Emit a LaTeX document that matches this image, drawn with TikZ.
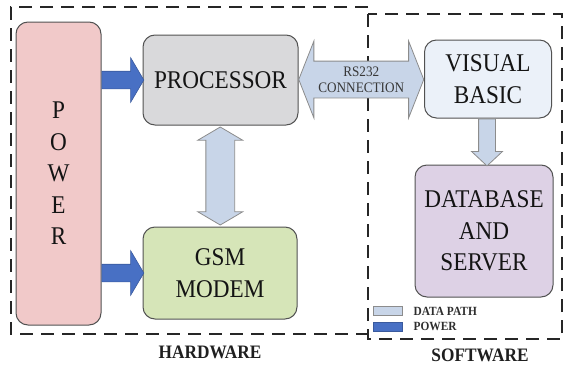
\documentclass[tikz,border=0pt]{standalone}
\usepackage{fontspec}
\setmainfont{Liberation Serif}
\newfontfamily\nfont[FakeStretch=0.91]{Liberation Serif}
\usetikzlibrary{positioning,shapes.arrows}
\definecolor{pwrpink}{RGB}{241,201,201}
\definecolor{procgray}{RGB}{217,217,219}
\definecolor{gsmgreen}{RGB}{214,229,184}
\definecolor{vbblue}{RGB}{235,241,249}
\definecolor{dbpurple}{RGB}{221,209,229}
\definecolor{pwrblue}{RGB}{72,112,196}
\definecolor{datblue}{RGB}{200,213,232}
\tikzset{
  blk/.style ={draw=black!68, line width=1pt, rounded corners=12pt, align=center, inner sep=0pt,
               text=black!92, font=\nfont\fontsize{25.5}{31.5}\selectfont},
  pa/.style  ={single arrow, draw=pwrblue!80!black, fill=pwrblue, line width=0.6pt, inner sep=0pt,
               inner ysep=8.5pt, single arrow head extend=13.5pt, single arrow tip angle=119},
  da/.style  ={single arrow, draw=black!45, fill=datblue, line width=0.8pt, inner sep=0pt,
               inner ysep=8pt, single arrow head extend=7pt, single arrow tip angle=94},
  dda/.style ={double arrow, draw=black!45, fill=datblue, line width=0.8pt, inner sep=0pt},
  hb/.style  ={dash pattern=on 13pt off 8pt, line width=1.8pt, black!85},
  tl/.style  ={text=black!88, font=\nfont\bfseries\fontsize{19}{22}\selectfont},
  lg/.style  ={inner sep=0pt, text=black!82, font=\nfont\bfseries\fontsize{12.5}{14}\selectfont}
}

\begin{document}
\begin{tikzpicture}[x=1pt, y=-1pt]
\useasboundingbox (0,0) rectangle (564,364);
\draw[hb] (368,7) -- (11,7) -- (11,334) -- (368,334);
\draw[hb] (368,14) rectangle (562,339);

\node[blk, fill=pwrpink, minimum width=85pt, minimum height=303pt] (pwr) at (58.5,173.5) {P\\O\\W\\E\\R};
\node[blk, fill=procgray, minimum width=155pt, minimum height=90pt] (proc) at (220.5,80) {PROCESSOR};
\node[blk, fill=gsmgreen, minimum width=154pt, minimum height=92pt] (gsm) at (220,273) {GSM\\MODEM};
\node[blk, fill=vbblue, minimum width=127pt, minimum height=78pt] (vb) at (488,79) {VISUAL\\BASIC};
\node[blk, fill=dbpurple, minimum width=138pt, minimum height=132pt] (db) at (484,231) {DATABASE\\AND\\SERVER};

\node[pa, anchor=tail, minimum height=42pt] (p1) at (pwr.east |- proc) {};
\node[pa, anchor=tail, minimum height=42pt] (p2) at (pwr.east |- gsm) {};
\path (proc.south) -- (gsm.north) node[dda, midway, rotate=90, minimum height=98pt, inner ysep=14pt,
  double arrow head extend=8pt, double arrow tip angle=119] (d1) {};
\path (proc.east) -- (vb.west) node[dda, midway, minimum height=125pt, inner ysep=18pt,
  double arrow head extend=20pt, double arrow tip angle=137] (rs) {};
\node[text=black!78, align=center, font=\nfont\fontsize{14.5}{16}\selectfont] (rslbl) at (rs) {RS232\\CONNECTION};
\node[da, anchor=tail, rotate=-90, minimum height=47pt] (d2) at ([xshift=-1pt]vb.south) {};

\node[draw=black!45, fill=datblue, line width=0.8pt, minimum width=29pt, minimum height=9pt, inner sep=0pt] (lg1) at (387.5,311) {};
\node[draw=pwrblue!80!black, fill=pwrblue, line width=0.8pt, minimum width=29pt, minimum height=9pt, inner sep=0pt] (lg2) at (387.5,326.5) {};
\node[lg, right=11pt of lg1] (lt1) {DATA PATH};
\node[lg, right=11pt of lg2] (lt2) {POWER};

\node[tl] (hw) at (210,352) {HARDWARE};
\node[tl] (sw) at (480,355) {SOFTWARE};
\end{tikzpicture}
\end{document}
